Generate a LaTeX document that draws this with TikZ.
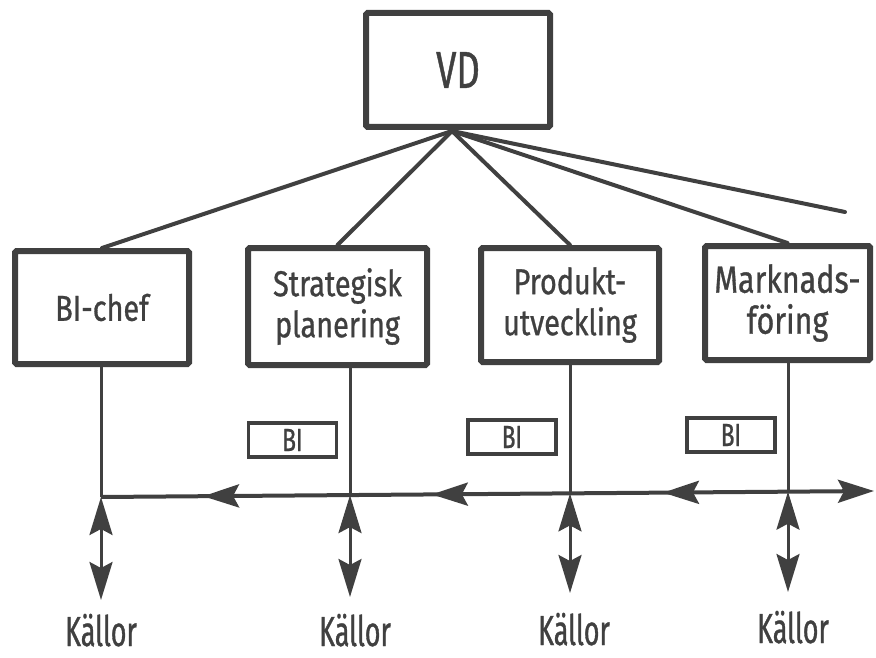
\documentclass[tikz,border=0pt]{standalone}
\usepackage{fontspec}
\setmainfont{Fira Sans}
\newfontfamily\handfont[FakeStretch=0.8, FakeBold=0.8]{Fira Sans}
\newfontfamily\handnarrow[FakeStretch=0.7, FakeBold=0.8]{Fira Sans}
\newfontfamily\handslim[FakeStretch=0.64, FakeBold=0.8]{Fira Sans}
\usetikzlibrary{arrows.meta,decorations.markings}
\definecolor{ink}{RGB}{64,64,64}
\tikzset{
  orgbox/.style={draw=ink, line width=6pt, fill=white, inner sep=0pt,
    align=center, text=ink, rounded corners=1.5pt,
    font=\handfont\fontsize{36}{41}\selectfont},
  tagbox/.style={draw=ink, line width=3.5pt, inner sep=0pt,
    minimum width=88pt, minimum height=34pt, text=ink,
    font=\handnarrow\fontsize{32}{32}\selectfont},
  sourcelabel/.style={anchor=base, text=ink, inner sep=0pt,
    font=\handslim\fontsize{42}{43}\selectfont},
  link/.style={draw=ink, line width=4pt, line cap=round},
  drop/.style={draw=ink, line width=3pt},
  bus/.style={draw=ink, line width=4pt},
  headtip/.tip={Stealth[length=36pt, width=23pt, inset=6pt]},
  twoway/.style={drop, {Stealth[length=38pt, width=23pt, inset=6pt]}-{Stealth[length=38pt, width=23pt, inset=6pt]}},
}
\begin{document}
\begin{tikzpicture}[x=1pt, y=-1pt]
\useasboundingbox (0,0) rectangle (876,658);

% top of the chart
\node[orgbox, minimum width=184pt, minimum height=114pt,
      font=\handnarrow\fontsize{52}{54}\selectfont] (vd) at (458,70) {VD};

% departments
\node[orgbox, minimum width=174pt, minimum height=113pt] (bichef) at (102,307.5) {BI-chef};
\node[orgbox, minimum width=179pt, minimum height=117pt] (strat) at (337.5,306.5) {Strategisk\\planering};
\node[orgbox, minimum width=178pt, minimum height=114pt] (prod) at (570,305) {Produkt-\\utveckling};
\node[orgbox, minimum width=165pt, minimum height=114pt,
      font=\handfont\fontsize{38}{41}\selectfont] (mark) at (787.5,303) {Marknads-\\föring};

% reporting lines from VD
\coordinate (apex) at (452,131);
\coordinate (loose) at (845,212);
\draw[link] (apex) -- (bichef.north);
\draw[link] (apex) -- (strat.north);
\draw[link] (apex) -- (prod.north);
\draw[link] (apex) -- (mark.north);
\draw[link] (apex) -- (loose);

% BI functions inside the departments
\node[tagbox] (tag1) at (292.5,440) {BI};
\node[tagbox] (tag2) at (512,437) {BI};
\node[tagbox] (tag3) at (731,435) {BI};

% information bus
\coordinate (j1) at (101,497);
\coordinate (j2) at (350,495.1);
\coordinate (j3) at (570,493.4);
\coordinate (j4) at (788,491.7);
\coordinate (busend) at (874,491);
\draw[bus, -headtip, postaction={decorate}, decoration={markings,
      mark=at position 0.132 with {\arrowreversed{headtip}},
      mark=at position 0.428 with {\arrowreversed{headtip}},
      mark=at position 0.727 with {\arrowreversed{headtip}}}]
  (j1) -- (busend);

% department lines down to the bus
\draw[drop] (bichef.south -| j1) -- (j1);
\draw[drop] (strat.south -| j2) -- (j2);
\draw[drop] (prod.south -| j3) -- (j3);
\draw[drop] (mark.south -| j4) -- (j4);

% sources
\coordinate (e1) at (101,600);
\coordinate (e2) at (350,597);
\coordinate (e3) at (570,593);
\coordinate (e4) at (788,592);
\draw[twoway] (j1) -- (e1);
\draw[twoway] (j2) -- (e2);
\draw[twoway] (j3) -- (e3);
\draw[twoway] (j4) -- (e4);

\node[sourcelabel] (src1) at (101,646) {Källor};
\node[sourcelabel] (src2) at (355,646) {Källor};
\node[sourcelabel] (src3) at (574,645) {Källor};
\node[sourcelabel] (src4) at (793,643) {Källor};
\end{tikzpicture}
\end{document}
